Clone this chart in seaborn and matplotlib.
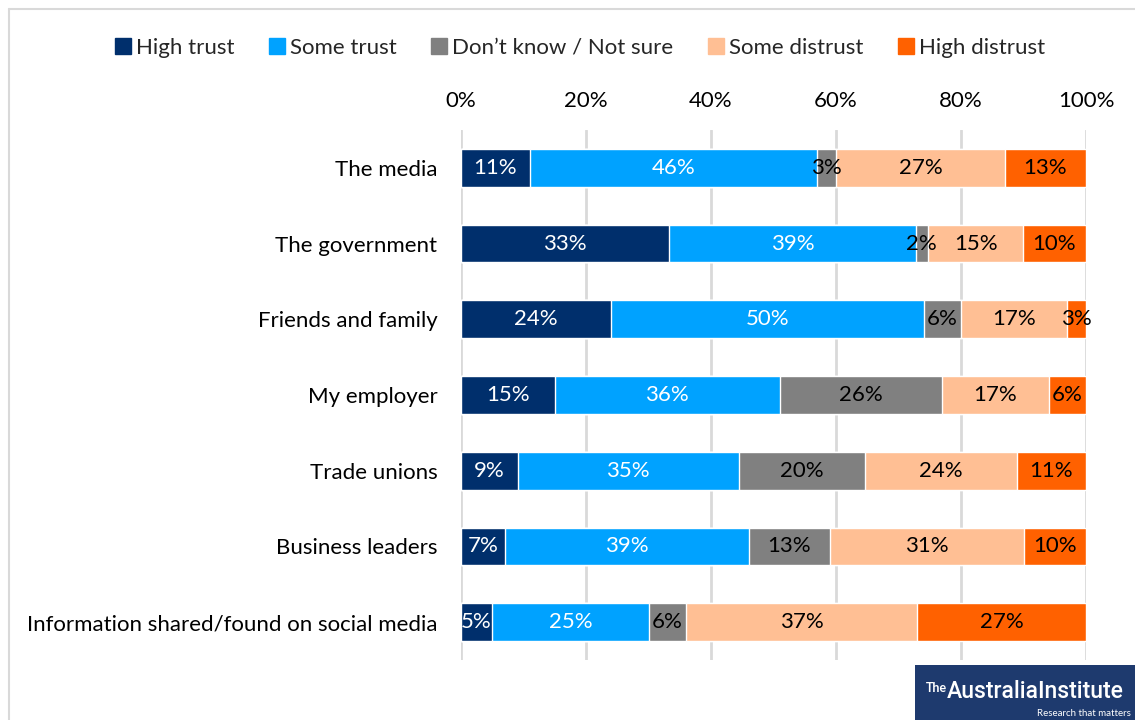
import numpy as np
import pandas as pd
import matplotlib
matplotlib.use("Agg")
import matplotlib.pyplot as plt
from matplotlib.patches import Rectangle
from matplotlib.lines import Line2D
import seaborn as sns

# Survey responses: trust in sources of information (%)
categories = [
    "The media",
    "The government",
    "Friends and family",
    "My employer",
    "Trade unions",
    "Business leaders",
    "Information shared/found on social media",
]
series_names = ["High trust", "Some trust", "Don\u2019t know / Not sure",
                "Some distrust", "High distrust"]
high_trust = [11, 33, 24, 15, 9, 7, 5]
some_trust = [46, 39, 50, 36, 35, 39, 25]
dont_know = [3, 2, 6, 26, 20, 13, 6]
some_distrust = [27, 15, 17, 17, 24, 31, 37]
high_distrust = [13, 10, 3, 6, 11, 10, 27]
tick_labels = ["0%", "20%", "40%", "60%", "80%", "100%"]

colors = ["#002F6C", "#00A2FF", "#808080", "#FFBF94", "#FF6100"]
label_colors = ["white", "white", "black", "black", "black"]

sns.set_theme(style="white")
plt.rcParams["font.family"] = ["Lato", "DejaVu Sans"]
FS = 16

values = np.array([high_trust, some_trust, dont_know, some_distrust, high_distrust], dtype=float)
shares = values / values.sum(axis=0) * 100  # 100% stacked
cum = np.cumsum(shares, axis=0)
starts = cum - shares

fig = plt.figure(figsize=(11.35, 7.2), dpi=100)
ax = fig.add_axes([461 / 1135, 1 - 660 / 720, 625 / 1135, 530 / 720])

# Draw the stacks from the outermost cumulative segment inwards
for i in range(len(series_names) - 1, -1, -1):
    df = pd.DataFrame({"category": categories, "value": cum[i]})
    sns.barplot(data=df, x="value", y="category", orient="h", color=colors[i],
                width=0.5, edgecolor="white", linewidth=1, saturation=1,
                ax=ax, zorder=3)

for i in range(len(series_names)):
    for j, cat in enumerate(categories):
        centre = starts[i, j] + shares[i, j] / 2
        ax.text(centre, j, f"{values[i, j]:.0f}%", ha="center", va="center",
                color=label_colors[i], fontsize=FS, zorder=5)

ax.set_xlim(0, 100)
ax.set_ylim(len(categories) - 0.5, -0.5)
ax.set_xticks(np.arange(0, 101, 20))
ax.set_xticklabels(tick_labels)
ax.xaxis.tick_top()
ax.tick_params(axis="x", length=0, pad=14, labelsize=FS, colors="black")
ax.tick_params(axis="y", length=0, pad=17, labelsize=FS, colors="black")
ax.set_xlabel("")
ax.set_ylabel("")
ax.grid(axis="x", color="#D9D9D9", linewidth=2, zorder=0)
ax.set_axisbelow(True)
for s in ax.spines.values():
    s.set_visible(False)

# Legend across the top
handles = [Line2D([0], [0], marker="s", linestyle="", markersize=12,
                  markerfacecolor=c, markeredgecolor=c) for c in colors]
fig.legend(handles, series_names, loc="center", bbox_to_anchor=(0.510, 1 - 48 / 720),
           ncol=5, frameon=False, fontsize=FS, handletextpad=0.15,
           columnspacing=1.45, handlelength=0.9)

# Chart area border
fig.add_artist(Line2D([9 / 1135, 1], [1 - 9 / 720, 1 - 9 / 720],
                      transform=fig.transFigure, color="#D9D9D9", linewidth=1.5))
fig.add_artist(Line2D([9 / 1135, 9 / 1135], [0, 1 - 9 / 720],
                      transform=fig.transFigure, color="#D9D9D9", linewidth=1.5))

# Institute logo
fig.add_artist(Rectangle((915 / 1135, 0), 220 / 1135, 55 / 720,
                         transform=fig.transFigure, facecolor="#1E3A6E",
                         edgecolor="none", zorder=10))
fig.text(926 / 1135, 1 - 688 / 720, "The", color="white", fontsize=9,
         ha="left", va="center", zorder=11, fontweight="bold")
fig.text(1124 / 1135, 1 - 692 / 720, "AustraliaInstitute", color="white",
         fontsize=16.5, ha="right", va="center", zorder=11,
         family=["Roboto", "DejaVu Sans"], fontweight="medium")
fig.text(1131 / 1135, 1 - 714 / 720, "Research that matters", color="white",
         fontsize=7, ha="right", va="center", zorder=11)

fig.savefig("out.png", dpi=100)
